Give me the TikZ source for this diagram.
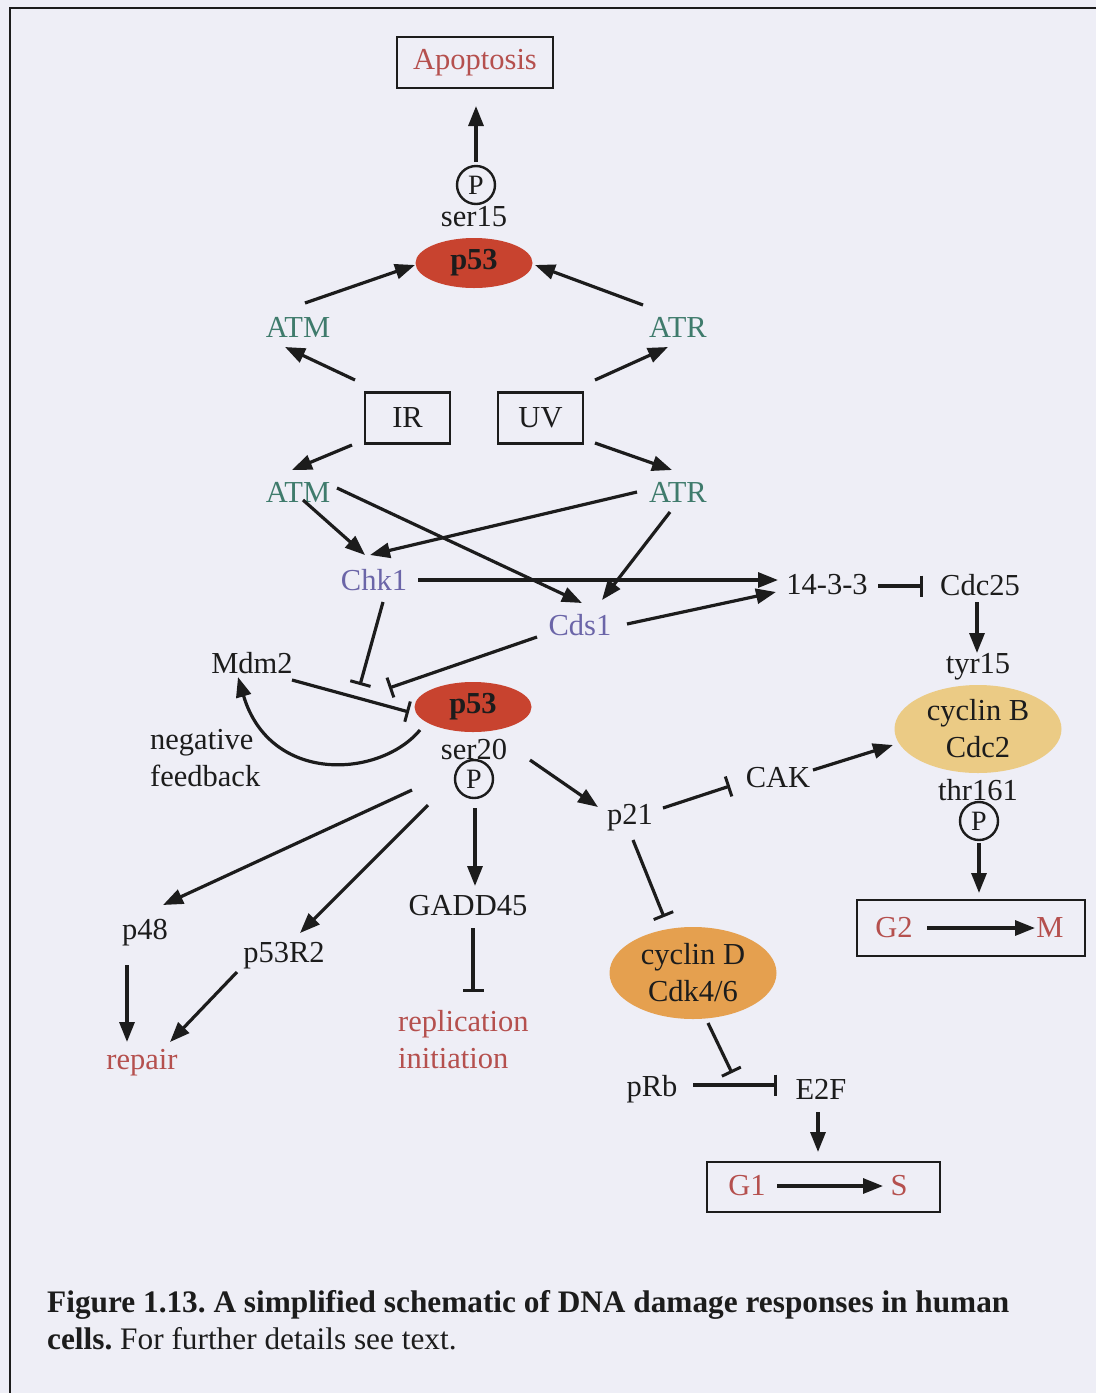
\documentclass[tikz,border=0pt]{standalone}
\usepackage{fontspec}
\setmainfont{Liberation Serif}
\usetikzlibrary{arrows.meta,shapes.geometric}
\definecolor{bgc}{HTML}{EEEEF6}
\definecolor{ink}{HTML}{1C1C1C}
\definecolor{redt}{HTML}{B5504E}
\definecolor{atmc}{HTML}{3F7B6C}
\definecolor{chkc}{HTML}{6B65A8}
\definecolor{p53c}{HTML}{C8432F}
\definecolor{cycbc}{HTML}{EBCB85}
\definecolor{cycdc}{HTML}{E5A04F}
\frenchspacing
\newcommand\dfs{\fontsize{30.5}{37}\selectfont}
\tikzset{
  txt/.style={font=\dfs, text=ink, inner sep=0pt},
  boxn/.style={draw=ink, line width=2.6pt, font=\dfs, text=ink, inner sep=0pt},
  pc/.style={circle, draw=ink, line width=2.4pt, minimum size=38pt, inner sep=0pt, font=\fontsize{28}{28}\selectfont, text=ink},
  p53n/.style={ellipse, fill=p53c, minimum width=117pt, minimum height=50pt, inner sep=0pt, font=\dfs\bfseries, text=ink},
  cyc/.style={ellipse, minimum width=167pt, minimum height=90pt, inner sep=0pt, font=\dfs, text=ink, align=center},
  ln/.style={line width=3.2pt, draw=ink},
  act/.style={ln, -{Triangle[length=20pt,width=15pt]}},
  inh/.style={ln, -{Bar[width=21pt,line width=3pt]}},
}
\begin{document}
\begin{tikzpicture}[x=1pt,y=-1pt]
\fill[bgc] (0,0) rectangle (1096,1393);
\useasboundingbox (0,0) rectangle (1096,1393);
\draw[line width=2.8pt, draw=ink] (1096,8) -- (10,8) -- (10,1393);

% nodes
\node[boxn, minimum width=156pt, minimum height=51pt, text=redt] (apop) at (475,62.5) {Apoptosis};
\node[pc] (p15) at (476,185) {P};
\node[txt] (s15) at (474,217) {ser15};
\node[p53n] (p53a) at (474,263) {p53};
\node[txt, text=atmc] (atm1) at (298,327) {ATM};
\node[txt, text=atmc] (atr1) at (678,327) {ATR};
\node[boxn, minimum width=85pt, minimum height=51pt] (ir) at (407.5,418) {IR};
\node[boxn, minimum width=85pt, minimum height=51pt] (uv) at (540.5,418) {UV};
\node[txt, text=atmc] (atm2) at (298,492) {ATM};
\node[txt, text=atmc] (atr2) at (678,492) {ATR};
\node[txt, text=chkc] (chk1) at (374,580) {Chk1};
\node[txt, text=chkc] (cds1) at (580,625) {Cds1};
\node[txt] (n1433) at (827,585) {14-3-3};
\node[txt] (cdc25) at (980,585) {Cdc25};
\node[txt] (tyr15) at (978,667) {tyr15};
\node[cyc, fill=cycbc, minimum height=88pt] (cycb) at (978,729) {cyclin B\\Cdc2};
\node[txt] (thr) at (978,790) {thr161};
\node[pc] (p161) at (979,821) {P};
\node[boxn, minimum width=228pt, minimum height=56pt] (g2m) at (971,928) {};
\node[txt, text=redt] (g2) at (894,928) {G2};
\node[txt, text=redt] (mm) at (1050,928) {M};
\node[txt] (mdm2) at (252,663) {Mdm2};
\node[p53n] (p53b) at (473,707) {p53};
\node[txt, align=left, anchor=west] (negfb) at (150,758) {negative\\feedback};
\node[txt] (s20) at (474,749) {ser20};
\node[pc] (p20) at (474,779) {P};
\node[txt] (p21) at (630,818) {p21};
\node[txt] (cak) at (778,778) {CAK};
\node[txt] (p48) at (145,933) {p48};
\node[txt] (p53r2) at (284,956) {p53R2};
\node[txt] (gadd) at (468,906) {GADD45};
\node[txt, align=left, anchor=west, text=redt] (repl) at (398,1040) {replication\\initiation};
\node[txt, text=redt] (repair) at (142,1063) {repair};
\node[cyc, fill=cycdc, minimum height=92pt] (cycd) at (693,973) {cyclin D\\Cdk4/6};
\node[txt] (prb) at (652,1089) {pRb};
\node[txt] (e2f) at (821,1089) {E2F};
\coordinate (rbbar) at (733,1085);
\node[boxn, minimum width=233pt, minimum height=50pt] (g1s) at (823.5,1187) {};
\node[txt, text=redt] (g1) at (747,1186) {G1};
\node[txt, text=redt] (ss) at (899,1186) {S};

% connectors
\draw[act] ([shift={(0,-23)}]p15.center) -- ([shift={(1,43.5)}]apop.center);
\draw[act] ([shift={(7,-24)}]atm1.center) -- ([shift={(-59,2)}]p53a.center);
\draw[act] ([shift={(-35,-22)}]atr1.center) -- ([shift={(61,2)}]p53a.center);
\draw[act] ([shift={(-52.5,-38)}]ir.center) -- ([shift={(-13,20)}]atm1.center);
\draw[act] ([shift={(54.5,-38)}]uv.center) -- ([shift={(-10,20)}]atr1.center);
\draw[act] ([shift={(-55.5,27)}]ir.center) -- ([shift={(-6,-22)}]atm2.center);
\draw[act] ([shift={(54.5,25)}]uv.center) -- ([shift={(-6,-22)}]atr2.center);
\draw[act] ([shift={(5,8)}]atm2.center) -- ([shift={(-9,-25)}]chk1.center);
\draw[act] ([shift={(39,-4)}]atm2.center) -- ([shift={(2,-22)}]cds1.center);
\draw[act] ([shift={(-41,0)}]atr2.center) -- ([shift={(-4,-25)}]chk1.center);
\draw[act] ([shift={(-8,20)}]atr2.center) -- ([shift={(22,-25)}]cds1.center);
\draw[act] ([shift={(44,0)}]chk1.center) -- ([shift={(-49,-5)}]n1433.center);
\draw[act] ([shift={(47,-1)}]cds1.center) -- ([shift={(-51,7)}]n1433.center);
\draw[inh] ([shift={(51,1)}]n1433.center) -- ([shift={(-57,1)}]cdc25.center);
\draw[act] ([shift={(-3,17)}]cdc25.center) -- ([shift={(-1,-14)}]tyr15.center);
\draw[act] ([shift={(35,-8)}]cak.center) -- ([shift={(-85,16)}]cycb.center);
\draw[inh] ([shift={(33,-10)}]p21.center) -- ([shift={(-48,8)}]cak.center);
\draw[act] ([shift={(0,22)}]p161.center) -- ([shift={(8,-35)}]g2m.center);
\draw[act] ([shift={(33,0)}]g2.center) -- ([shift={(-15,0)}]mm.center);
\draw[inh] ([shift={(3,22)}]p21.center) -- ([shift={(-29,-56)}]cycd.center);
\draw[inh] ([shift={(15,50)}]cycd.center) -- ([shift={(-1,-12)}]rbbar);
\draw[inh] ([shift={(41,-4)}]prb.center) -- ([shift={(-44,-4)}]e2f.center);
\draw[act] ([shift={(-3,23)}]e2f.center) -- ([shift={(-5.5,-35)}]g1s.center);
\draw[act] ([shift={(30,0)}]g1.center) -- ([shift={(-16,0)}]ss.center);
\draw[inh] ([shift={(9,22)}]chk1.center) -- ([shift={(-113,-22)}]p53b.center);
\draw[inh] ([shift={(-43,12)}]cds1.center) -- ([shift={(-84,-19)}]p53b.center);
\draw[inh] ([shift={(40,17)}]mdm2.center) -- ([shift={(-64,5)}]p53b.center);
\draw[act] ([shift={(-53,23)}]p53b.center) .. controls (380,778) and (270,785) .. ([shift={(-14,14)}]mdm2.center);
\draw[act] ([shift={(57,53)}]p53b.center) -- ([shift={(-32,-11)}]p21.center);
\draw[act] ([shift={(-61,83)}]p53b.center) -- ([shift={(18,-28)}]p48.center);
\draw[act] ([shift={(-45,98)}]p53b.center) -- ([shift={(16,-23)}]p53r2.center);
\draw[act] ([shift={(1,29)}]p20.center) -- ([shift={(7,-20)}]gadd.center);
\draw[inh] ([shift={(5,22)}]gadd.center) -- ([shift={(75,-48)}]repl.west);
\draw[act] ([shift={(-18,32)}]p48.center) -- ([shift={(-15,-21)}]repair.center);
\draw[act] ([shift={(-47,16)}]p53r2.center) -- ([shift={(28,-21)}]repair.center);

% caption
\node[anchor=base west, inner sep=0pt, font=\fontsize{31.3}{37}\selectfont\bfseries, text=ink] (cap1) at (47,1312) {Figure 1.13. A simplified schematic of DNA damage responses in human};
\node[anchor=base west, inner sep=0pt, font=\fontsize{31.3}{37}\selectfont, text=ink] (cap2) at (47,1349) {\textbf{cells.} For further details see text.};
\end{tikzpicture}
\end{document}
